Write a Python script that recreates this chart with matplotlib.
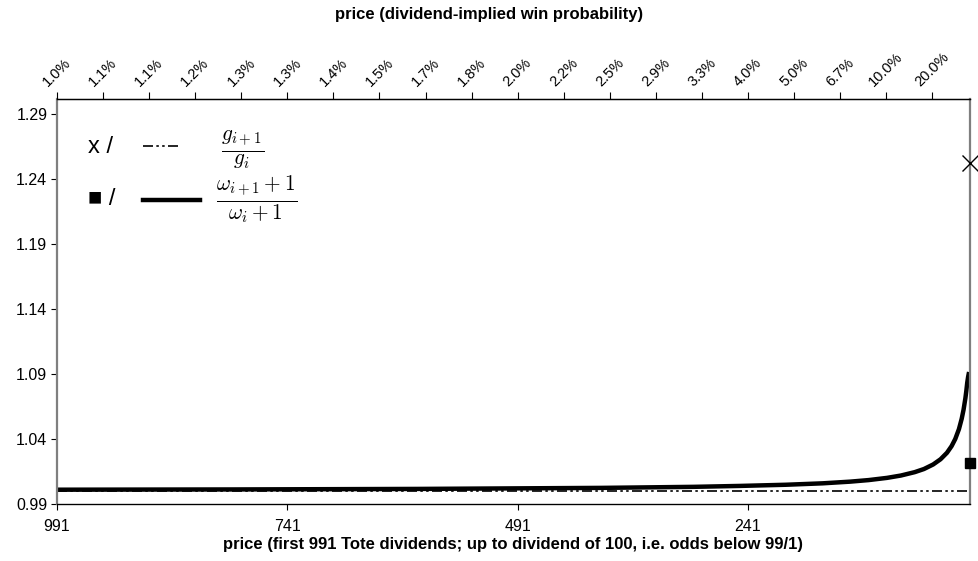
import numpy as np
import matplotlib.pyplot as plt

plt.rcParams['font.family'] = ['Liberation Sans', 'DejaVu Sans']
plt.rcParams['mathtext.fontset'] = 'cm'

# price index (991 = dividend 100 ... 1 = dividend 1.1)
price_idx = [991, 900, 800, 700, 600, 500, 400, 300, 250, 200, 160, 130, 110,
             90, 75, 60, 50, 40, 32, 25, 20, 16, 12, 9, 7, 5, 4, 3, 2, 1]
# (omega_{i+1}+1)/(omega_i+1)
omega_ratio = [1.0010, 1.0011, 1.0012, 1.0014, 1.0016, 1.0020, 1.0024, 1.0032,
               1.0039, 1.0048, 1.0059, 1.0072, 1.0084, 1.0101, 1.0119, 1.0145,
               1.0169, 1.0204, 1.0244, 1.0294, 1.0345, 1.0400, 1.0476, 1.0556,
               1.0625, 1.0714, 1.0769, 1.0833, 1.0880, 1.0915]
# g_{i+1}/g_i stays flat
g_idx = [991, 1]
g_ratio = [1.0, 1.0]

# end-point markers
marker_x = [0]
g_marker = [1.2523]
omega_marker = [1.0215]

bottom_ticks = [991, 741, 491, 241]
top_ticks = [991 - 50 * k for k in range(20)]
top_labels = ['1.0%', '1.1%', '1.1%', '1.2%', '1.3%', '1.3%', '1.4%', '1.5%',
              '1.7%', '1.8%', '2.0%', '2.2%', '2.5%', '2.9%', '3.3%', '4.0%',
              '5.0%', '6.7%', '10.0%', '20.0%']
y_ticks = [0.99, 1.04, 1.09, 1.14, 1.19, 1.24, 1.29]

dashdotdot = (0, (6, 2, 1.5, 2, 1.5, 2))

fig = plt.figure(figsize=(9.79, 5.61), dpi=100)
ax = fig.add_axes([57 / 979, 57 / 561, 913 / 979, 405 / 561])

ax.plot(g_idx, g_ratio, color='black', lw=1.2, linestyle=dashdotdot)
ax.plot(price_idx, omega_ratio, color='black', lw=3.2, solid_capstyle='butt')
ax.plot(marker_x, g_marker, 'x', color='black', ms=11, mew=1.0,
        clip_on=False, zorder=5)
ax.plot(marker_x, omega_marker, 's', color='black', ms=7,
        clip_on=False, zorder=5)

ax.set_xlim(991, 0)
ax.set_ylim(0.99, 1.3015)
ax.set_xticks(bottom_ticks)
ax.set_xticklabels([str(t) for t in bottom_ticks], fontsize=11.5)
ax.set_yticks(y_ticks)
ax.set_yticklabels(['%.2f' % v for v in y_ticks], fontsize=11.5)
ax.tick_params(axis='both', direction='out', length=4, width=0.8)
ax.tick_params(axis='x', pad=7)
ax.tick_params(axis='y', pad=3)
ax.set_xlabel('price (first 991 Tote dividends; up to dividend of 100, i.e. odds below 99/1)',
              fontsize=12, fontweight='bold', labelpad=2)

for side in ['left', 'right']:
    ax.spines[side].set_color('#7f7f7f')
    ax.spines[side].set_linewidth(1.6)
for side in ['top', 'bottom']:
    ax.spines[side].set_color('black')
    ax.spines[side].set_linewidth(0.9)

ax2 = ax.twiny()
ax2.set_xlim(991, 0)
ax2.set_xticks(top_ticks)
ax2.set_xticklabels(top_labels, rotation=45, fontsize=10.5, ha='center', va='bottom')
ax2.tick_params(axis='x', direction='out', length=5, width=0.8, pad=2)
for side in ['left', 'right']:
    ax2.spines[side].set_visible(False)
ax2.spines['top'].set_linewidth(0.9)

fig.text(0.5, 1 - 15 / 561, 'price (dividend-implied win probability)',
         ha='center', va='center', fontsize=12, fontweight='bold')

# legend drawn by hand
fig.text(88 / 979, 1 - 147 / 561, 'x /', fontsize=17, va='center', ha='left')
fig.text(88 / 979, 1 - 199 / 561, '\u25a0 /', fontsize=17, va='center', ha='left')
fig.add_artist(plt.Line2D([143 / 979, 180 / 979], [1 - 146 / 561, 1 - 146 / 561],
                          color='black', lw=1.2, linestyle=dashdotdot))
fig.add_artist(plt.Line2D([143 / 979, 200 / 979], [1 - 200 / 561, 1 - 200 / 561],
                          color='black', lw=3.2))
fig.text(243 / 979, 1 - 150 / 561, r'$\frac{g_{i+1}}{g_i}$', fontsize=22,
         va='center', ha='center')
fig.text(257 / 979, 1 - 200 / 561, r'$\frac{\omega_{i+1}+1}{\omega_i+1}$',
         fontsize=22, va='center', ha='center')

fig.savefig('out.png', dpi=100)
